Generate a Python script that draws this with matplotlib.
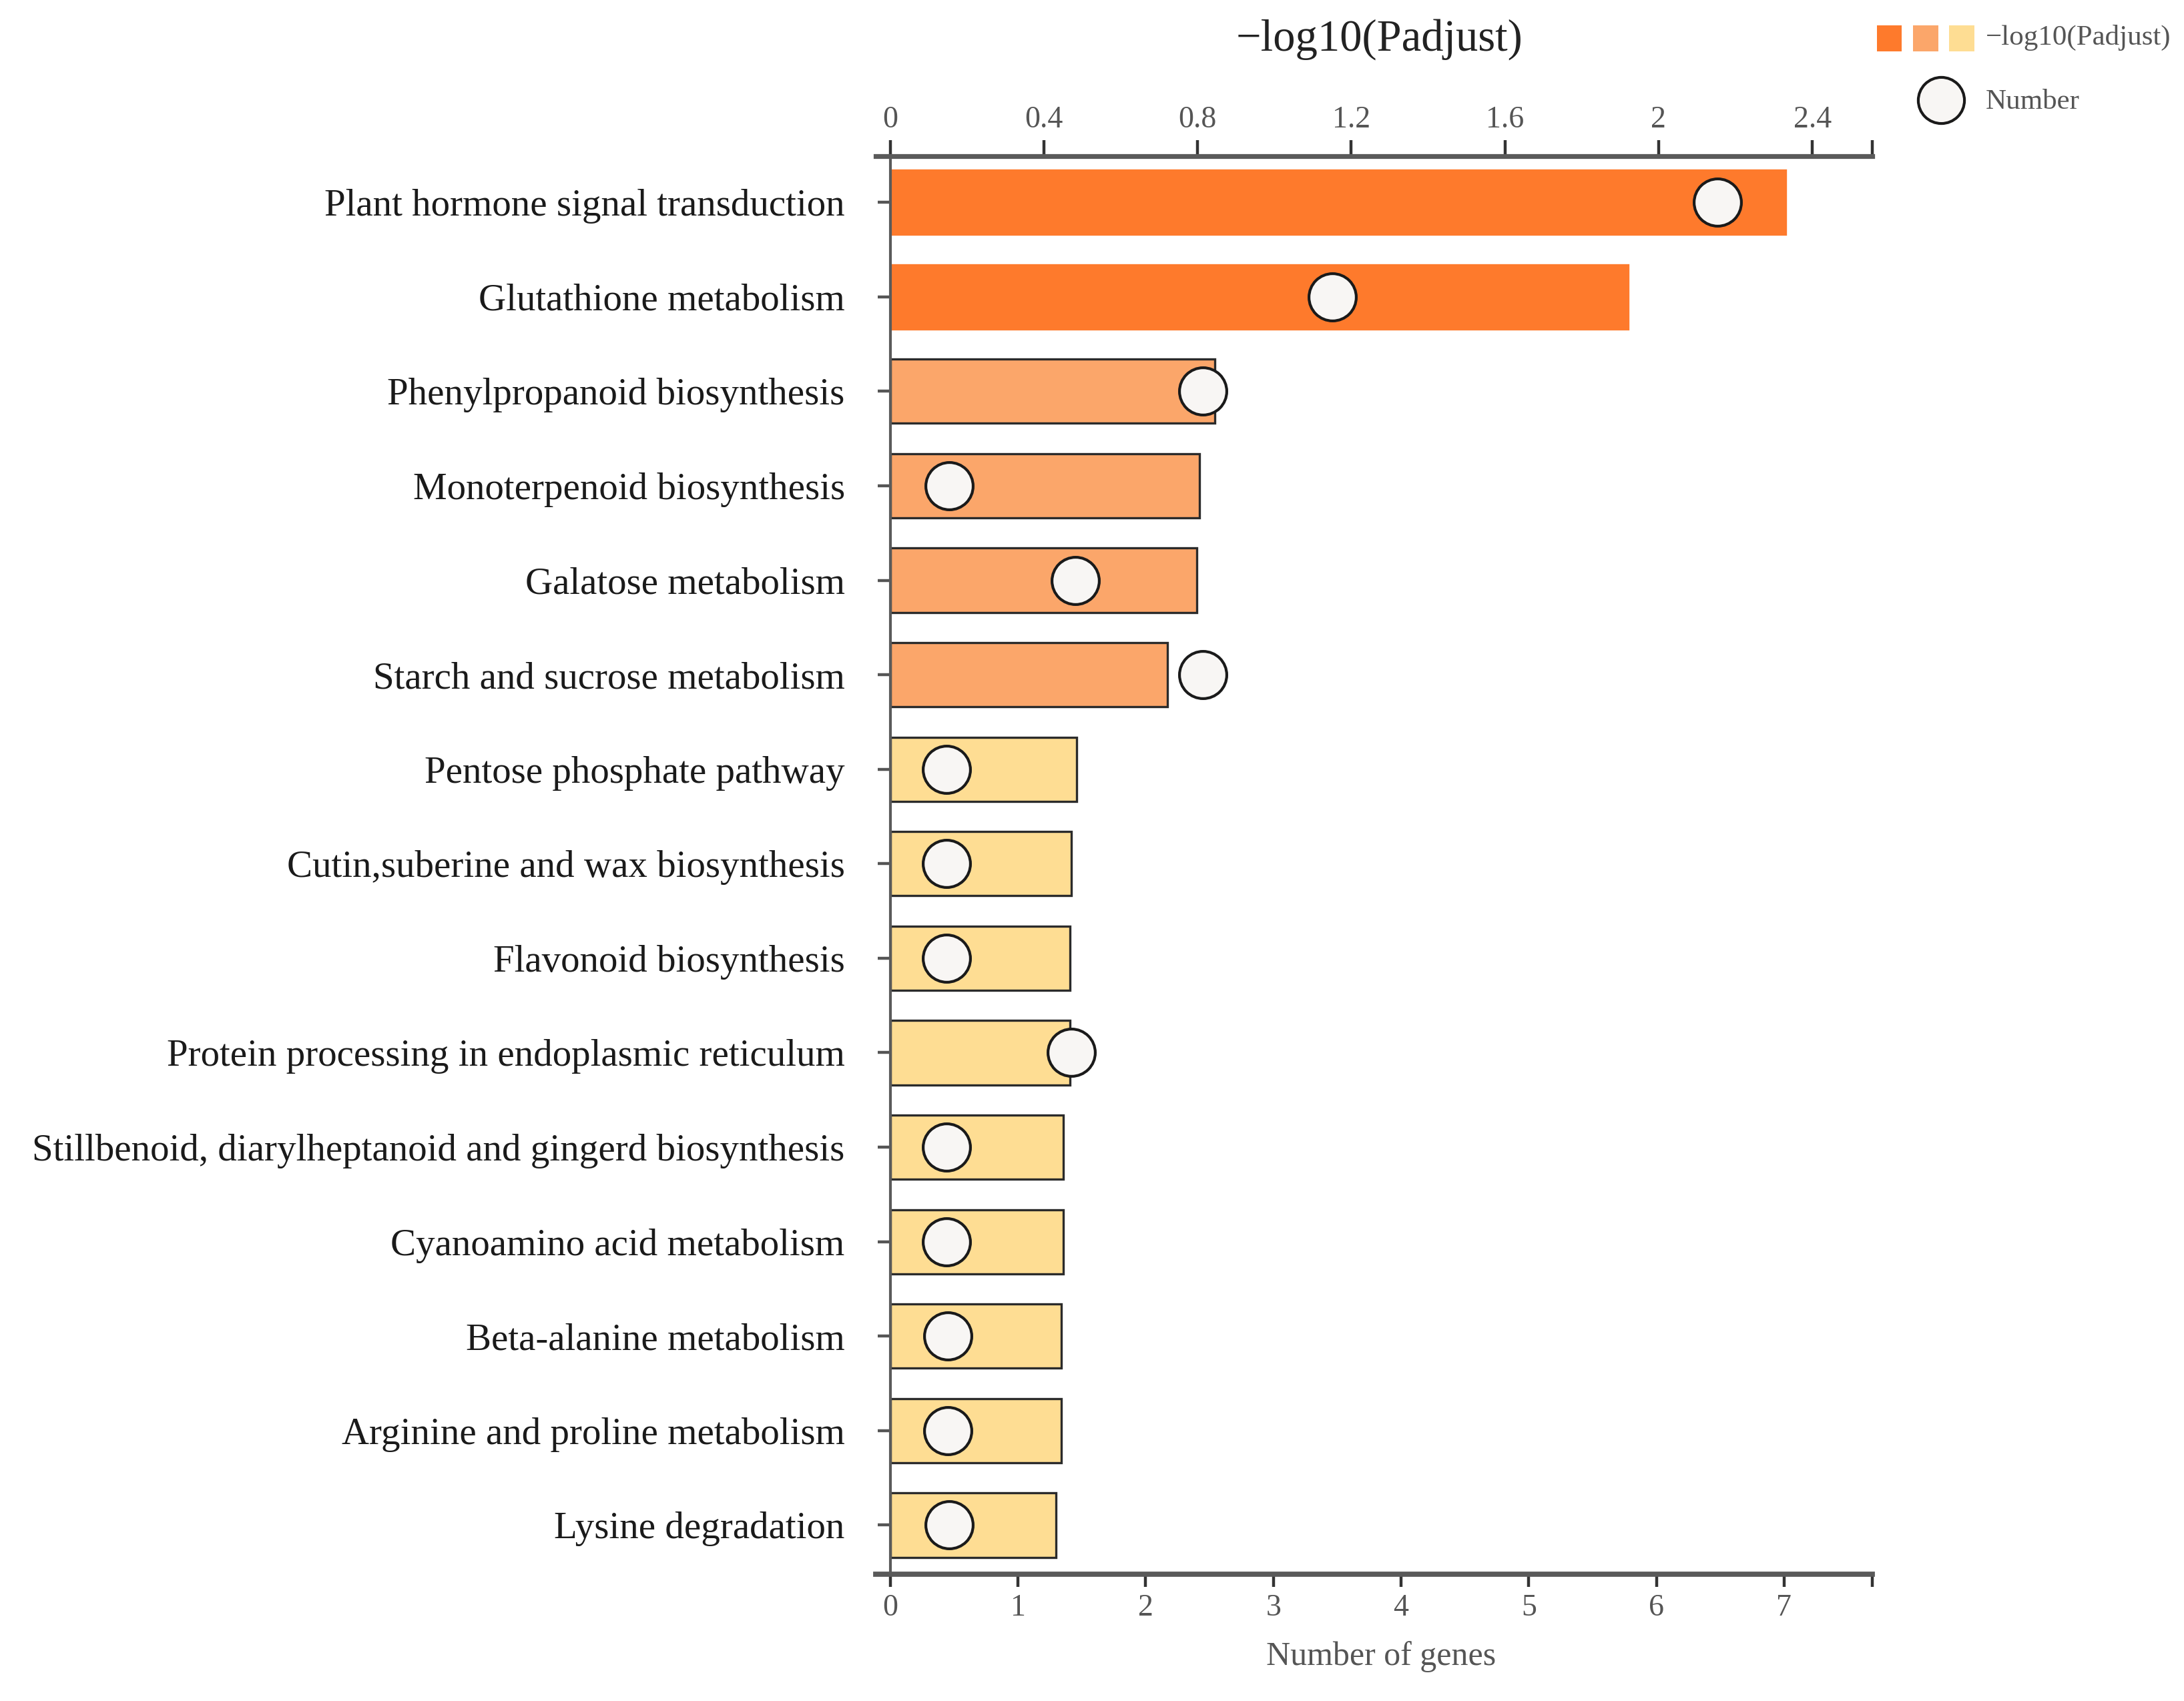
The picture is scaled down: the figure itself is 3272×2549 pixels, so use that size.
import numpy as np
import matplotlib
matplotlib.use('Agg')
import matplotlib.pyplot as plt
from matplotlib.patches import Rectangle

plt.rcParams['font.family'] = ['Liberation Serif', 'DejaVu Serif']

pathways = ['Plant hormone signal transduction', 'Glutathione metabolism',
            'Phenylpropanoid biosynthesis', 'Monoterpenoid biosynthesis',
            'Galatose metabolism', 'Starch and sucrose metabolism',
            'Pentose phosphate pathway', 'Cutin,suberine and wax biosynthesis',
            'Flavonoid biosynthesis', 'Protein processing in endoplasmic reticulum',
            'Stillbenoid, diarylheptanoid and gingerd biosynthesis',
            'Cyanoamino acid metabolism', 'Beta-alanine metabolism',
            'Arginine and proline metabolism', 'Lysine degradation']
padj_log = [2.33, 1.92, 0.845, 0.805, 0.798, 0.722, 0.486, 0.471, 0.468,
            0.468, 0.450, 0.450, 0.446, 0.446, 0.432]
gene_pos = [6.48, 3.46, 2.45, 0.46, 1.45, 2.45, 0.44, 0.44, 0.44, 1.42,
            0.44, 0.44, 0.45, 0.45, 0.46]
level = [0, 0, 1, 1, 1, 1, 2, 2, 2, 2, 2, 2, 2, 2, 2]

top_ticks = [0, 0.4, 0.8, 1.2, 1.6, 2, 2.4]
top_labels = ['0', '0.4', '0.8', '1.2', '1.6', '2', '2.4']
bottom_ticks = [0, 1, 2, 3, 4, 5, 6, 7]

colors = ['#FE7A2C', '#FBA66A', '#FEDD93']
edges = ['#FE7A2C', '#2b2b2b', '#2b2b2b']
gray = '#555555'

fig = plt.figure(figsize=(16.365, 12.745), dpi=200)
ax = fig.add_axes([0.4075, 0.0745, 0.857 - 0.4075, 0.9083 - 0.0745])

y = np.arange(len(pathways))
ax.barh(y, padj_log, height=0.68,
        color=[colors[l] for l in level],
        edgecolor=[edges[l] for l in level], linewidth=1.2, zorder=2)
ax.set_xlim(0, 2.556)
ax.set_ylim(14.52, -0.49)
ax.set_yticks(y)
ax.set_yticklabels(pathways, fontsize=20.5, color='#1a1a1a')
ax.tick_params(axis='y', length=7, width=1.6, color=gray, pad=17.5)

for s in ['right', 'bottom']:
    ax.spines[s].set_visible(False)
ax.spines['top'].set_linewidth(2.6)
ax.spines['top'].set_color('#5a5a5a')
ax.spines['top'].set_bounds(-0.038, 2.556)
ax.spines['left'].set_linewidth(1.5)
ax.spines['left'].set_color('#5a5a5a')

ax2 = ax.twiny()
ax2.set_xlim(0, 7.69)
ax2.scatter(gene_pos, y, s=650, facecolor='#F8F6F4', edgecolor='#1a1a1a',
            linewidth=1.5, zorder=3, clip_on=False)
ax2.xaxis.set_ticks_position('bottom')
ax2.xaxis.set_label_position('bottom')
ax2.set_xticks(bottom_ticks + [7.69])
ax2.set_xticklabels([str(t) for t in bottom_ticks] + [''], fontsize=16.5, color=gray)
ax2.tick_params(axis='x', length=7, width=1.6, color='#333333', pad=3.6)
ax2.set_xlabel('Number of genes', fontsize=18, color=gray, labelpad=10)
for s in ['right', 'top', 'left']:
    ax2.spines[s].set_visible(False)
ax2.spines['bottom'].set_linewidth(2.8)
ax2.spines['bottom'].set_color('#5a5a5a')
ax2.spines['bottom'].set_bounds(-0.115, 7.69)

# top axis belongs to the bars, set after twiny
ax.xaxis.set_ticks_position('top')
ax.set_xticks(top_ticks + [2.556])
ax.set_xticklabels(top_labels + [''], fontsize=16.5, color=gray)
ax.tick_params(axis='x', length=8.7, width=1.6, color='#333333', pad=3)

fig.text(0.6315, 0.977, '\u2212log10(Padjust)', fontsize=24, color='#222222',
         ha='center', va='center')

# legend drawn in figure pixel space (display size 1568 x 1221)
lax = fig.add_axes([0, 0, 1, 1])
lax.set_xlim(0, 1568)
lax.set_ylim(1221, 0)
lax.axis('off')
for i, c in enumerate(colors):
    lax.add_patch(Rectangle((1347 + i * 26, 18), 18, 19, facecolor=c, edgecolor='none'))
lax.text(1425, 27, '\u2212log10(Padjust)', fontsize=15.5, color=gray, va='center')
lax.scatter([1393], [72], s=620, facecolor='#F8F6F4', edgecolor='#1a1a1a', linewidth=1.5)
lax.text(1425, 73, 'Number', fontsize=15.5, color=gray, va='center')

fig.savefig('out.png', dpi=200, facecolor='white')
